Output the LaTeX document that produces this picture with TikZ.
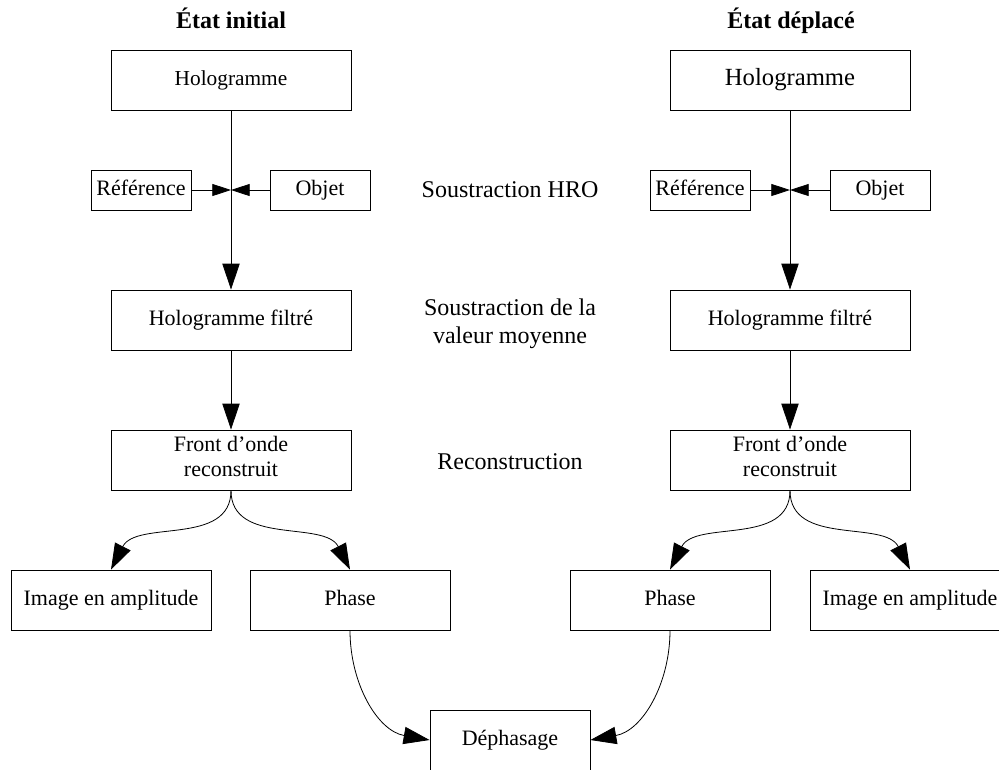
\documentclass[tikz,border=0pt]{standalone}
\usepackage{fontspec}
\setmainfont{Liberation Serif}
\usetikzlibrary{arrows.meta}

\begin{document}
\begin{tikzpicture}[x=0.75pt,y=-0.75pt,
    >={Triangle[length=19.5pt,width=13pt]},
    box/.style={draw,line width=0.6pt,inner sep=1pt,align=center,
      execute at begin node=\strut,execute at end node=\strut,
      minimum width=180pt,minimum height=45pt,font=\fontsize{16.5}{19}\selectfont},
    smallbox/.style={box,minimum width=75pt,minimum height=30pt},
    outbox/.style={box,minimum width=150pt},
    title/.style={execute at begin node=\strut,
      font=\fontsize{18}{21}\selectfont\bfseries},
    steplabel/.style={align=center,font=\fontsize{18}{21}\selectfont},
    link/.style={->,line width=0.6pt},
    sidelink/.style={-{Triangle[length=14pt,width=9pt]},line width=0.6pt}]
  \useasboundingbox (0,0) rectangle (999,769);
  %% titles
  \node[title] (titleL) at (231,22) {État initial};
  \node[title] (titleR) at (791,22) {État déplacé};
  %% left column
  \node[box,font=\fontsize{16}{19}\selectfont] (holoL) at (231,80) {Hologramme};
  \coordinate (jL) at (231,190);
  \node[smallbox] (refL) at (141,190) {Référence};
  \node[smallbox] (objL) at (320,190) {Objet};
  \node[box] (filtL) at (231,320) {Hologramme filtré};
  \node[box] (frontL) at (231,460) {Front d'onde\\reconstruit};
  \node[outbox] (ampL) at (111,600) {Image en amplitude};
  \node[outbox] (phaseL) at (350,600) {Phase};
  %% right column
  \node[box,font=\fontsize{18.5}{21}\selectfont] (holoR) at (790,80) {Hologramme};
  \coordinate (jR) at (790,190);
  \node[smallbox] (refR) at (700,190) {Référence};
  \node[smallbox] (objR) at (880,190) {Objet};
  \node[box] (filtR) at (790,320) {Hologramme filtré};
  \node[box] (frontR) at (790,460) {Front d'onde\\reconstruit};
  \node[outbox] (phaseR) at (670,600) {Phase};
  \node[outbox] (ampR) at (910,600) {Image en amplitude};
  %% result
  \node[box,minimum width=120pt] (dephase) at (510,740) {Déphasage};
  %% step labels
  \node[steplabel] (hro) at (510,190) {Soustraction HRO};
  \node[steplabel] (moy) at (510,324) {Soustraction de la\\valeur moyenne};
  \node[steplabel] (rec) at (510,462) {Reconstruction};
  %% connectors
  \draw[link] (holoL) -- (filtL);
  \draw[sidelink] (refL) -- (jL);
  \draw[sidelink] (objL) -- (jL);
  \draw[link] (filtL) -- (frontL);
  \draw[link] (frontL.south) to[out=-90,in=63] (ampL.north);
  \draw[link] (frontL.south) to[out=-90,in=117] (phaseL.north);
  \draw[link] (holoR) -- (filtR);
  \draw[sidelink] (refR) -- (jR);
  \draw[sidelink] (objR) -- (jR);
  \draw[link] (filtR) -- (frontR);
  \draw[link] (frontR.south) to[out=-90,in=63] (phaseR.north);
  \draw[link] (frontR.south) to[out=-90,in=117] (ampR.north);
  \draw[link] (phaseL.south) to[out=-90,in=170] (dephase.west);
  \draw[link] (phaseR.south) to[out=-90,in=10] (dephase.east);
\end{tikzpicture}
\end{document}
